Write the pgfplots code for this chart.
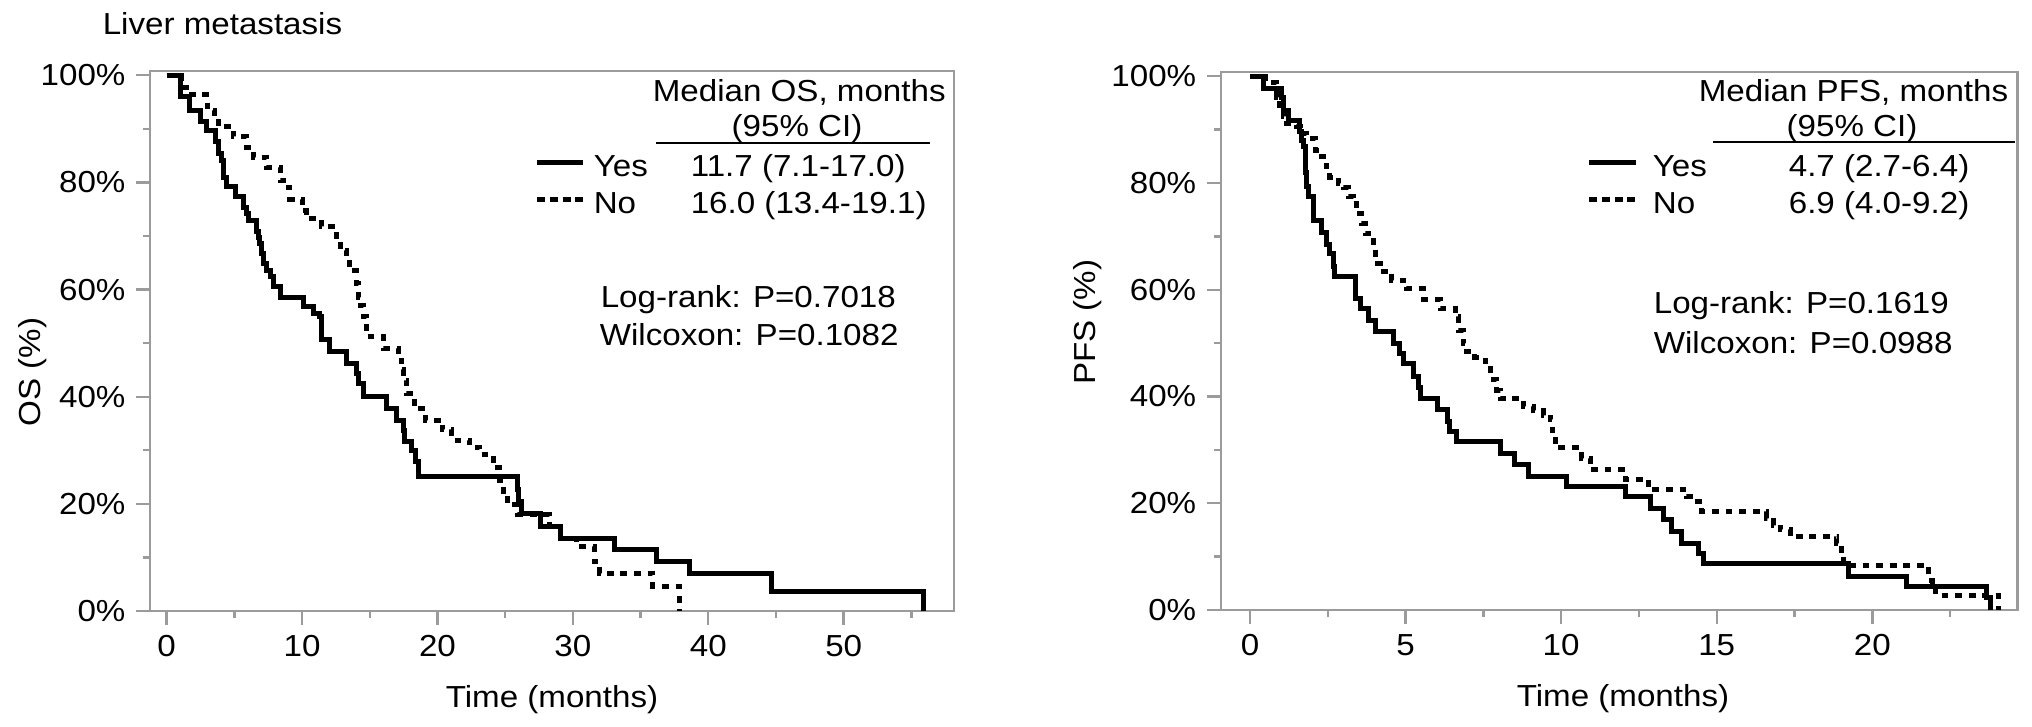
\documentclass[border=0pt]{standalone}
\usepackage{fontspec}
\setmainfont{Liberation Sans}[FakeStretch=1.09]
\usepackage{pgfplots}
\pgfplotsset{compat=1.18}

\definecolor{axgray}{RGB}{155,155,155}

\pgfplotsset{
  km/.style={
    scale only axis,
    axis line style={axgray, line width=0.6pt},
    every tick/.style={axgray, line width=0.6pt},
    tick align=outside, tick pos=left,
    major tick length=3.4pt, minor tick length=1.8pt,
    ymin=0, ymax=100.8,
    ytick={0,20,...,100}, minor ytick={10,30,...,90},
    yticklabels={0\%,20\%,40\%,60\%,80\%,100\%},
    /pgf/number format/assume math mode=true,
    ylabel style={anchor=center, rotate=0},
    xlabel style={anchor=base},
  },
  yes/.style={black, line width=1.25pt, const plot, mark=none},
  no/.style={black, line width=1.25pt, const plot, mark=none, dash pattern=on 1.7pt off 1.7pt},
}

\begin{document}
\fontsize{7.6pt}{9pt}\selectfont
\begin{tikzpicture}
\useasboundingbox (0pt,0pt) rectangle (508pt,-181.75pt);

% ---------- left: OS ----------
\begin{axis}[km, at={(37.5pt,-152.75pt)}, anchor=south west,
  width=201pt, height=135pt,
  xmin=-1.233, xmax=58.15,
  xtick={0,10,...,50}, minor xtick={5,15,...,55},
  xlabel={Time (months)}, ylabel={OS (\%)},
  xlabel style={at={(axis description cs:0.5,-0.178)}},
  ylabel style={at={(axis description cs:-0.1455,0.443)}},
]
  % Yes (solid)
  \addplot[yes] coordinates {
    (0,100) (1.0,97.9) (1.05,96.0) (1.72,93.5) (2.46,91.3) (2.95,89.7)
    (3.57,87.6) (3.81,85.4) (4.06,84.1) (4.18,81.0) (4.43,79.2) (5.05,77.3)
    (5.66,75.4) (5.91,74.2) (6.03,72.9) (6.65,70.8) (6.77,69.8) (6.89,68.6)
    (7.0,66.8) (7.14,64.9) (7.38,63.6) (7.63,62.4) (7.87,60.5) (8.37,58.6)
    (10.09,56.8) (10.83,55.5) (11.32,54.9) (11.4,52.7) (11.45,50.6) (12.06,48.4)
    (13.29,46.2) (14.03,44.3) (14.15,42.5) (14.52,40.0) (16.25,37.8) (16.99,35.6)
    (17.48,33.7) (17.6,31.6) (18.09,30.0) (18.34,28.0) (18.58,25.2) (25.9,22.6)
    (26.0,20.4) (26.2,18.2) (27.6,15.7) (29.05,13.6) (33.1,11.4) (36.2,9.2)
    (38.6,7.0) (44.7,3.6) (55.9,0)
  };
  % No (dotted)
  \addplot[no] coordinates {
    (0,100) (1.1,97.8) (1.8,96.5) (2.95,95.2) (3.0,93.5) (3.5,92.0) (3.8,90.4)
    (4.93,88.5) (5.9,86.6) (6.4,84.7) (7.39,82.8) (8.37,80.4) (9.0,79.1)
    (9.1,76.9) (10.0,74.7) (10.3,73.2) (11.4,71.7) (12.55,69.2) (12.8,67.3)
    (13.3,66.1) (13.5,63.6) (14.0,61.1) (14.15,58.6) (14.3,57.1) (14.5,54.9)
    (14.77,51.2) (16.0,49.0) (17.1,46.8) (17.35,45.0) (17.5,43.1) (17.7,40.6)
    (18.3,37.8) (19.1,35.6) (20.4,33.8) (21.05,31.9) (22.4,30.6) (23.1,29.3)
    (24.1,26.8) (24.6,24.4) (24.85,21.9) (25.2,19.8) (25.9,18.0) (28.3,15.7)
    (29.05,13.6) (30.3,12.0) (31.6,9.2) (32.0,7.0) (35.9,4.6) (37.9,0)
  };
\end{axis}

% ---------- right: PFS ----------
\begin{axis}[km, at={(305.175pt,-152.5pt)}, anchor=south west,
  width=199.15pt, height=134.5pt,
  xmin=-0.94, xmax=24.66,
  xtick={0,5,...,20}, minor xtick={2.5,7.5,...,22.5},
  xlabel={Time (months)}, ylabel={PFS (\%)},
  xlabel style={at={(axis description cs:0.505,-0.180)}},
  ylabel style={at={(axis description cs:-0.1666,0.535)}},
]
  \addplot[yes] coordinates {
    (0,100) (0.43,97.7) (1.02,96.1) (1.07,93.6) (1.23,91.8) (1.58,89.6)
    (1.66,88.0) (1.71,86.8) (1.77,84.3) (1.80,82.0) (1.82,79.3) (1.88,77.4)
    (2.04,73.0) (2.30,70.8) (2.47,68.5) (2.57,66.8) (2.68,64.4) (2.72,62.4)
    (3.38,58.4) (3.54,56.5) (3.80,54.3) (4.02,52.1) (4.61,49.9) (4.82,48.1)
    (4.93,46.2) (5.25,43.8) (5.40,41.7) (5.47,39.7) (6.03,37.6) (6.35,35.3)
    (6.42,33.4) (6.64,31.5) (8.04,29.4) (8.5,27.2) (8.95,25.0) (10.18,23.1)
    (12.08,21.2) (12.86,19.0) (13.29,16.9) (13.56,14.7) (13.88,12.5) (14.42,10.6)
    (14.58,8.7) (19.25,6.2) (21.11,4.4) (23.68,2.3) (23.79,0)
  };
  \addplot[no] coordinates {
    (0,100) (0.5,98.8) (0.86,96.1) (0.96,93.6) (1.07,92.4) (1.18,91.1) (1.5,90.5)
    (1.61,89.3) (1.82,88.3) (2.09,86.1) (2.30,84.9) (2.47,82.4) (2.57,81.1)
    (2.84,79.9) (3.0,79.2) (3.16,77.4) (3.32,76.1) (3.43,74.2) (3.59,72.4)
    (3.70,70.5) (3.97,68.0) (4.02,64.9) (4.18,63.4) (4.56,61.8) (5.04,60.3)
    (5.57,58.2) (6.11,56.5) (6.59,54.9) (6.70,52.4) (6.86,49.9) (6.97,48.4)
    (7.23,47.4) (7.56,46.5) (7.72,44.9) (7.82,43.1) (7.93,41.2) (8.04,39.6)
    (8.79,38.1) (9.11,37.4) (9.43,36.5) (9.65,35.6) (9.72,32.4) (9.81,30.4)
    (10.66,28.4) (10.93,26.3) (12.06,24.5) (12.8,22.5) (14.04,21.2) (14.3,20.3)
    (14.52,18.4) (16.61,17.2) (16.82,15.9) (17.04,15.0) (17.36,13.7) (18.86,12.5)
    (19.0,10.6) (19.08,8.4) (21.81,5.6) (21.92,4.0) (22.03,2.8) (24.06,0)
  };
\end{axis}

% ---------- title and legend blocks (pixel grid, y downwards) ----------
\begin{scope}[x=0.25pt, y=-0.25pt]
\node[anchor=base west, inner sep=0] at (102,35) {Liver metastasis};

\node[anchor=base west, inner sep=0] at (652,102) {Median OS, months};
\node[anchor=base, inner sep=0] at (797,137) {(95\% CI)};
\draw[black, line width=0.5pt] (656,143) -- (930,143);
\draw[black, line width=1.25pt] (537,163) -- (583,163);
\draw[black, line width=1.25pt, dash pattern=on 2pt off 1.2pt] (537,200) -- (583,200);
\node[anchor=base west, inner sep=0] at (593,177) {Yes};
\node[anchor=base west, inner sep=0] at (593,213) {No};
\node[anchor=base west, inner sep=0] at (690,177) {11.7 (7.1-17.0)};
\node[anchor=base west, inner sep=0] at (690,213) {16.0 (13.4-19.1)};
\node[anchor=base west, inner sep=0] at (600,307) {Log-rank: P=0.7018};
\node[anchor=base west, inner sep=0] at (599,345) {Wilcoxon: P=0.1082};

\node[anchor=base west, inner sep=0] at (1698,102) {Median PFS, months};
\node[anchor=base, inner sep=0] at (1852,137) {(95\% CI)};
\draw[black, line width=0.5pt] (1713,142) -- (2015,142);
\draw[black, line width=1.25pt] (1589,163) -- (1636,163);
\draw[black, line width=1.25pt, dash pattern=on 2pt off 1.2pt] (1589,200) -- (1636,200);
\node[anchor=base west, inner sep=0] at (1652,177) {Yes};
\node[anchor=base west, inner sep=0] at (1652,213) {No};
\node[anchor=base west, inner sep=0] at (1788,177) {4.7 (2.7-6.4)};
\node[anchor=base west, inner sep=0] at (1788,213) {6.9 (4.0-9.2)};
\node[anchor=base west, inner sep=0] at (1653,313) {Log-rank: P=0.1619};
\node[anchor=base west, inner sep=0] at (1653,353) {Wilcoxon: P=0.0988};
\end{scope}
\end{tikzpicture}
\end{document}
